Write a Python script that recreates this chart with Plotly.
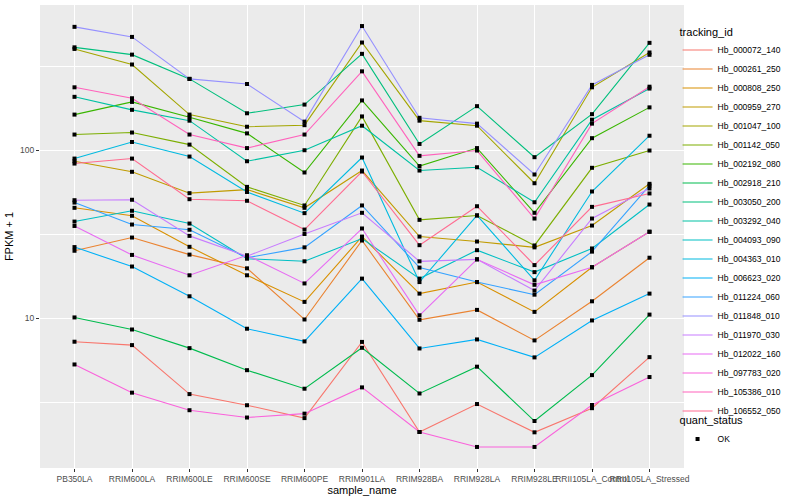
import numpy as np
import plotly.graph_objects as go

samples = ["PB350LA", "RRIM600LA", "RRIM600LE", "RRIM600SE", "RRIM600PE", "RRIM901LA",
           "RRIM928BA", "RRIM928LA", "RRIM928LE", "RRII105LA_Control", "RRII105LA_Stressed"]

tracking_ids = ["Hb_000072_140", "Hb_000261_250", "Hb_000808_250", "Hb_000959_270", "Hb_001047_100",
                "Hb_001142_050", "Hb_002192_080", "Hb_002918_210", "Hb_003050_200", "Hb_003292_040",
                "Hb_004093_090", "Hb_004363_010", "Hb_006623_020", "Hb_011224_060", "Hb_011848_010",
                "Hb_011970_030", "Hb_012022_160", "Hb_097783_020", "Hb_105386_010", "Hb_106552_050"]

# FPKM + 1 values, one list per gene, in sample order
hb_000072_140 = [7.24, 6.91, 3.53, 3.03, 2.54, 7.22, 2.10, 3.08, 2.09, 2.91, 5.86]
hb_000261_250 = [25.2, 30.2, 23.9, 19.8, 9.82, 29.0, 9.78, 11.2, 7.37, 12.6, 22.9]
hb_000808_250 = [45.4, 40.7, 26.6, 18.0, 12.5, 30.6, 14.0, 16.4, 10.9, 20.1, 32.7]
hb_000959_270 = [86.0, 74.4, 55.5, 58.3, 45.4, 75.7, 30.6, 28.6, 26.4, 35.6, 63.1]
hb_001047_100 = [401, 324, 163, 138, 141, 438, 150, 140, 63.6, 237, 382]
hb_001142_050 = [124, 127.5, 108, 60.5, 46.9, 159, 38.5, 40.9, 27.1, 78.6, 99.6]
hb_002192_080 = [163, 194, 157, 126, 73.7, 198, 80.5, 103, 42.4, 118, 180]
hb_002918_210 = [10.1, 8.56, 6.63, 4.90, 3.80, 6.66, 3.56, 5.14, 2.44, 4.58, 10.5]
hb_003050_200 = [410, 371, 266, 166, 187, 375, 109, 183, 90.9, 164, 436]
hb_003292_040 = [208, 174, 150, 86.0, 100, 140, 75.7, 79.2, 49.0, 152, 233]
hb_004093_090 = [37.6, 43.6, 36.6, 22.6, 21.8, 29.8, 17.2, 25.4, 18.8, 26.0, 47.5]
hb_004363_010 = [89.2, 112, 91.7, 56.4, 42.2, 90.5, 16.4, 40.9, 16.8, 56.8, 122]
hb_006623_020 = [26.5, 20.3, 13.5, 8.65, 7.27, 17.2, 6.60, 7.47, 5.84, 9.69, 14.0]
hb_011224_060 = [48.8, 36.1, 33.6, 22.9, 26.4, 46.9, 20.0, 16.4, 13.8, 24.9, 61.6]
hb_011848_010 = [543, 473, 266, 248, 148, 549, 156, 144, 71.7, 245, 370]
hb_011970_030 = [50.4, 50.7, 30.9, 23.4, 31.7, 42.4, 21.8, 22.4, 14.6, 39.2, 59.2]
hb_012022_160 = [35.4, 23.8, 18.0, 23.7, 16.1, 34.2, 10.4, 22.4, 15.8, 20.1, 32.7]
hb_097783_020 = [5.30, 3.60, 2.83, 2.56, 2.70, 3.87, 2.10, 1.71, 1.71, 3.04, 4.46]
hb_105386_010 = [237, 204, 124, 103, 124, 295, 92.6, 99.6, 39.2, 144, 239]
hb_106552_050 = [83.3, 89.2, 51.1, 50.0, 33.7, 74.7, 27.2, 46.4, 20.7, 46.0, 55.3]

series = [hb_000072_140, hb_000261_250, hb_000808_250, hb_000959_270, hb_001047_100,
          hb_001142_050, hb_002192_080, hb_002918_210, hb_003050_200, hb_003292_040,
          hb_004093_090, hb_004363_010, hb_006623_020, hb_011224_060, hb_011848_010,
          hb_011970_030, hb_012022_160, hb_097783_020, hb_105386_010, hb_106552_050]

colors = ["#F8766D", "#EA8331", "#D89000", "#C09B00", "#A3A500", "#7CAE00", "#39B600",
          "#00BB4E", "#00BF7D", "#00C1A3", "#00BFC4", "#00BAE0", "#00B0F6", "#35A2FF",
          "#9590FF", "#C77CFF", "#E76BF3", "#FA62DB", "#FF62BC", "#FF6C91"]

FONT = "Liberation Sans, Arial, sans-serif"

fig = go.Figure()
for name, vals, col in zip(tracking_ids, series, colors):
    fig.add_trace(go.Scatter(x=samples, y=vals, mode="lines", name=name,
                             line=dict(color=col, width=1.1), legend="legend"))

all_x = [s for vals in series for s in samples]
all_y = [v for vals in series for v in vals]
fig.add_trace(go.Scatter(x=all_x, y=all_y, mode="markers", name="OK",
                         marker=dict(symbol="square", size=4, color="black"),
                         legend="legend2"))

logs = np.log10(np.array(all_y))
lo, hi = logs.min(), logs.max()
pad = (hi - lo) * 0.05
yrange = [lo - pad, hi + pad]

fig.update_layout(
    width=800, height=500,
    margin=dict(l=40, r=116, t=5, b=32, autoexpand=False),
    plot_bgcolor="#EBEBEB", paper_bgcolor="white",
    font=dict(family=FONT, color="black"),
    showlegend=True,
    legend=dict(title=dict(text="tracking_id", font=dict(size=11)),
                font=dict(size=8.5, color="black"),
                x=0.99, xanchor="left", y=0.965, yanchor="top",
                itemwidth=30, tracegroupgap=0, bgcolor="rgba(0,0,0,0)"),
    legend2=dict(title=dict(text="quant_status", font=dict(size=11)),
                 font=dict(size=8.5, color="black"),
                 x=0.99, xanchor="left", y=0.125, yanchor="top",
                 itemwidth=30, bgcolor="rgba(0,0,0,0)"),
)

fig.update_xaxes(
    type="category", categoryorder="array", categoryarray=samples,
    range=[-0.6, len(samples) - 0.4],
    showgrid=True, gridcolor="white", gridwidth=1.1,
    zeroline=False, showline=False, automargin=False,
    ticks="outside", ticklen=3, tickcolor="#333333", tickwidth=1,
    tickangle=0, tickfont=dict(size=8.5, color="#4D4D4D"),
    title=dict(text="sample_name", font=dict(size=11), standoff=2),
)

fig.update_yaxes(
    type="log", range=yrange,
    tickmode="array", tickvals=[10, 100], ticktext=["10", "100"],
    showgrid=True, gridcolor="white", gridwidth=1.1,
    minor=dict(tickmode="array", tickvals=[10 ** 0.5, 10 ** 1.5, 10 ** 2.5],
               showgrid=True, gridcolor="white", gridwidth=0.55, ticks=""),
    zeroline=False, showline=False, automargin=False,
    ticks="outside", ticklen=3, tickcolor="#333333", tickwidth=1,
    tickfont=dict(size=8.5, color="#4D4D4D"),
    title=dict(text="FPKM + 1", font=dict(size=11), standoff=4),
)

fig.write_html("out.html", config={"displayModeBar": False},
               post_script="document.body.style.margin='0';document.body.style.overflow='hidden';")
